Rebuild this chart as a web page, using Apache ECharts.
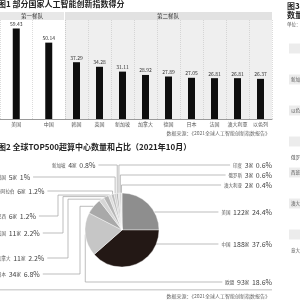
<!DOCTYPE html>
<html>
<head>
<meta charset="utf-8">
<script src="https://cdn.jsdelivr.net/npm/echarts@6/dist/echarts.min.js"></script>
<style>
html, body { margin: 0; padding: 0; background: #fff; }
#chart { width: 300px; height: 300px; }
</style>
</head>
<body>
<div id="chart"></div>
<script>
// 图1：人工智能创新指数得分（两个梯队）
const tier1Names = ["美国", "中国"];
const tier1Scores = [59.43, 50.14];
const tier2Names = ["韩国", "英国", "新加坡", "加拿大", "德国", "日本", "法国", "澳大利亚", "以色列"];
const tier2Scores = [37.29, 34.28, 31.11, 28.92, 27.89, 27.05, 26.81, 26.81, 26.37];

// 图2：TOP500超算中心数量（顺时针，从12点方向开始）
const pieNames = ["美国", "中国", "欧盟", "日本", "加拿大", "英国", "巴西", "沙特阿拉伯", "韩国", "新加坡", "印度", "俄罗斯", "澳大利亚"];
const pieCounts = [122, 188, 93, 34, 11, 11, 6, 6, 5, 4, 3, 3, 2];
const pieShares = ["24.4%", "37.6%", "18.6%", "6.8%", "2.2%", "2.2%", "1.2%", "1.2%", "1%", "0.8%", "0.6%", "0.6%", "0.4%"];

// 图3（右侧被截断）行标签
const fig3Labels = ["", "", "", "新加坡", "", "以色列", "", "", "俄罗斯", "西班牙", "", "澳大利亚", "", "", "意大利"];

const FONT = "Noto Sans CJK SC";
const SOURCE = "数据来源：《2021全球人工智能创新指数报告》";

// 饼图颜色
const pieColors = ["#8e8e8e", "#231815", "#c6c6c6", "#a9a9a9", "#d6d6d6", "#b5b5b5", "#dcdcdc", "#bdbdbd", "#d0d0d0", "#b0b0b0", "#d8d8d8", "#c0c0c0", "#e0e0e0"];

// 饼图位置
const CX = 122, CY = 230, R = 37;

// 标签位置：[方向, y, x, 折线方式]  v=竖直落到扇区, e=水平接到饼边, 数字=折点x
const pieLabelPos = {
	"新加坡": ["left", 165, 52, "v"],
	"韩国": ["left", 177, -3, "v"],
	"沙特阿拉伯": ["left", 191, -8, "v"],
	"巴西": ["left", 216, -3, 58],
	"英国": ["left", 233, -3, 63],
	"加拿大": ["left", 258, -3, 68],
	"日本": ["left", 274, -3, 80],
	"印度": ["right", 165, 272, "v"],
	"俄罗斯": ["right", 175, 272, "v"],
	"澳大利亚": ["right", 185, 272, "v"],
	"美国": ["right", 212, 272, "e"],
	"中国": ["right", 244, 272, "e"],
	"欧盟": ["right", 282, 272, "v"],
};

const chart = echarts.init(document.getElementById("chart"));

const barLabel = {
	show: true,
	position: "top",
	distance: 2,
	fontSize: 5,
	color: "#333",
	fontFamily: FONT,
	formatter: (p) => p.value.toFixed(2),
};

function xAxisFor(names, gridIndex) {
	return {
		type: "category",
		gridIndex: gridIndex,
		data: names,
		axisTick: { show: false },
		axisLine: { lineStyle: { color: "#9a9a9a", width: 1 } },
		axisLabel: { fontSize: 5, color: "#555", margin: 3, interval: 0, fontFamily: FONT },
		splitLine: { show: true, lineStyle: { color: "#c4c4c4", width: 0.6, type: [1, 1] } },
	};
}

// 图3 的灰白相间行
const fig3Graphics = [];
fig3Labels.forEach((txt, i) => {
	const y = 33 + i * 15.5;
	if (i % 2 === 1) {
		fig3Graphics.push({ type: "rect", shape: { x: 289, y: y - 5, width: 11, height: 10 }, style: { fill: "#ececec" } });
	}
	if (txt) {
		fig3Graphics.push({ type: "text", x: 291, y: y, style: { text: txt, fontSize: 4.5, fill: "#555", verticalAlign: "middle", fontFamily: FONT } });
	}
});

const option = {
	animation: false,
	textStyle: { fontFamily: FONT },
	title: [
		{
			text: "图1 部分国家人工智能创新指数得分",
			left: -2,
			top: 0,
			padding: 0,
			textStyle: { fontSize: 8, fontWeight: "bold", color: "#222", fontFamily: FONT },
		},
		{
			text: "图2 全球TOP500超算中心数量和占比（2021年10月）",
			left: -2,
			top: 143,
			padding: 0,
			textStyle: { fontSize: 8, fontWeight: "bold", color: "#222", fontFamily: FONT },
		},
	],
	grid: [
		{ left: 0, width: 65, top: 20, height: 99 },
		{ left: 65, width: 207, top: 20, height: 99, show: true, backgroundColor: "#efefef", borderWidth: 0 },
	],
	xAxis: [xAxisFor(tier1Names, 0), xAxisFor(tier2Names, 1)],
	yAxis: [
		{ type: "value", gridIndex: 0, min: 0, max: 65, show: false },
		{ type: "value", gridIndex: 1, min: 0, max: 65, show: false },
	],
	graphic: [
		// 梯队标题栏
		{ type: "rect", shape: { x: 0, y: 12, width: 64, height: 8 }, style: { fill: "#e8e8e8" } },
		{ type: "rect", shape: { x: 65, y: 12, width: 207, height: 8 }, style: { fill: "#e2e2e2" } },
		{ type: "text", x: 32, y: 16, style: { text: "第一梯队", fontSize: 5.5, fill: "#333", align: "center", verticalAlign: "middle", fontFamily: FONT } },
		{ type: "text", x: 168, y: 16, style: { text: "第二梯队", fontSize: 5.5, fill: "#333", align: "center", verticalAlign: "middle", fontFamily: FONT } },
		// 数据来源
		{ type: "text", x: 270, y: 133, style: { text: SOURCE, fontSize: 5, fill: "#666", align: "right", verticalAlign: "middle", fontFamily: FONT } },
		{ type: "rect", shape: { x: 0, y: 289, width: 272, height: 1.5 }, style: { fill: "#d4d4d4" } },
		{ type: "text", x: 270, y: 296, style: { text: SOURCE, fontSize: 5, fill: "#666", align: "right", verticalAlign: "middle", fontFamily: FONT } },
		// 右侧图3（截断）
		{ type: "text", x: 287, y: 6, style: { text: "图3", fontSize: 8, fontWeight: "bold", fill: "#222", verticalAlign: "middle", fontFamily: FONT } },
		{ type: "text", x: 287, y: 15, style: { text: "数量", fontSize: 8, fontWeight: "bold", fill: "#222", verticalAlign: "middle", fontFamily: FONT } },
		{ type: "text", x: 287, y: 24, style: { text: "单位：", fontSize: 4.5, fill: "#555", verticalAlign: "middle", fontFamily: FONT } },
	].concat(fig3Graphics),
	series: [
		{
			type: "bar",
			xAxisIndex: 0,
			yAxisIndex: 0,
			data: tier1Scores,
			barWidth: 7,
			itemStyle: { color: "#0e0e0e" },
			label: barLabel,
		},
		{
			type: "bar",
			xAxisIndex: 1,
			yAxisIndex: 1,
			data: tier2Scores,
			barWidth: 7,
			itemStyle: { color: "#0e0e0e" },
			label: barLabel,
		},
		{
			type: "pie",
			center: [CX, CY],
			radius: R,
			startAngle: 90,
			clockwise: true,
			avoidLabelOverlap: false,
			data: pieNames.map((name, i) => ({
				name: name,
				value: pieCounts[i],
				itemStyle: { color: pieColors[i] },
			})),
			itemStyle: { borderColor: "#fff", borderWidth: 0.4 },
			label: {
				show: true,
				position: "outside",
				color: "#444",
				fontFamily: FONT,
				formatter: (p) => `{n|${p.name}} {v|${pieCounts[p.dataIndex]}}{u|家} {p|${pieShares[p.dataIndex]}}`,
				rich: {
					n: { fontSize: 4.5, color: "#555", fontFamily: FONT },
					v: { fontSize: 7, color: "#444", fontFamily: FONT },
					u: { fontSize: 4.5, color: "#555", fontFamily: FONT },
					p: { fontSize: 7, color: "#444", fontFamily: FONT },
				},
			},
			labelLine: { show: true, length: 5, length2: 5, lineStyle: { color: "#a0a0a0", width: 0.7 } },
			labelLayout: function (params) {
				const name = pieNames[params.dataIndex];
				const pos = pieLabelPos[name];
				const side = pos[0], y = pos[1], x = pos[2], knee = pos[3];
				const w = params.labelRect.width;
				const p0 = params.labelLinePoints ? params.labelLinePoints[0] : [CX, CY - R];
				const end = side === "left" ? [x + w + 3, y] : [x - w - 3, y];
				let pts;
				if (knee === "v") {
					pts = [p0, [p0[0], y], end];
				} else if (knee === "e") {
					const dx = Math.sqrt(Math.max(0, R * R - (y - CY) * (y - CY)));
					pts = [[CX + dx, y], end];
				} else {
					pts = [p0, [knee, p0[1]], [knee, y], end];
				}
				return {
					x: x,
					y: y,
					align: side,
					verticalAlign: "middle",
					labelLinePoints: pts,
				};
			},
		},
	],
};

chart.setOption(option);
</script>
</body>
</html>
